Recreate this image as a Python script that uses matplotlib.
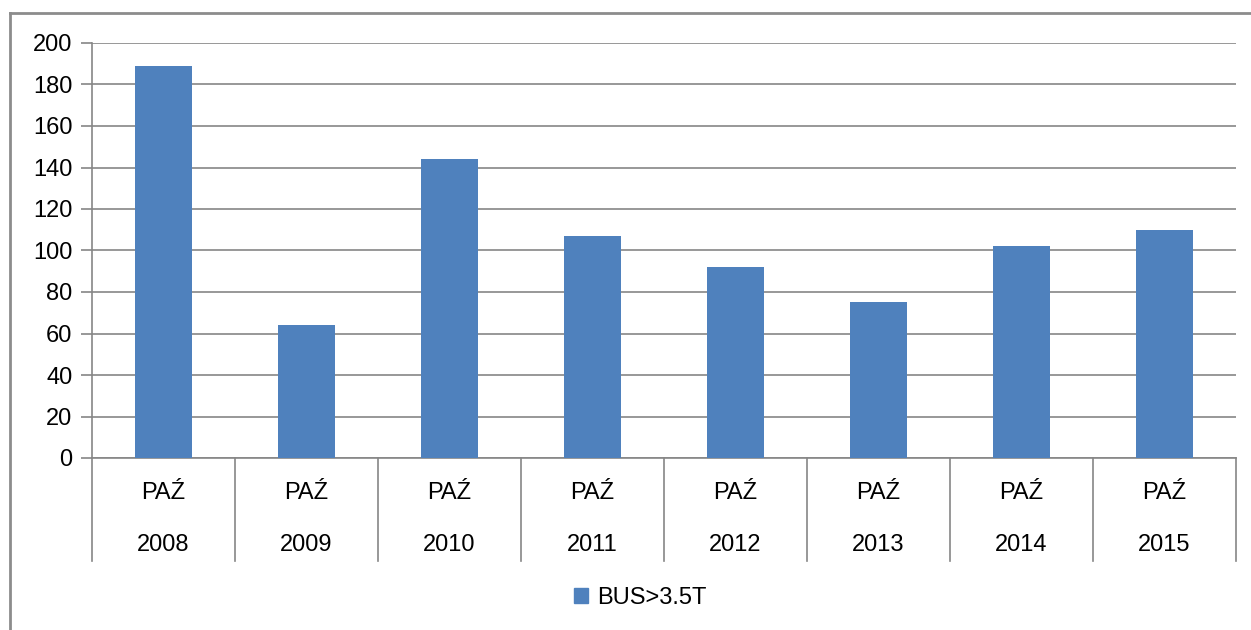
import matplotlib.pyplot as plt
from matplotlib.lines import Line2D
from matplotlib.patches import Patch
import numpy as np

years = ['2008', '2009', '2010', '2011', '2012', '2013', '2014', '2015']
month = 'PAŹ'
bus_values = [189, 64, 144, 107, 92, 75, 102, 110]
series_name = 'BUS>3.5T'

W, H = 1251, 630
fig = plt.figure(figsize=(W / 100, H / 100), dpi=100)
plt.rcParams['font.family'] = ['Liberation Sans', 'DejaVu Sans']
fs = 17

# outer chart frame (cut off at right and bottom)
fig.add_artist(Line2D([10 / W, 1.0], [1 - 13 / H, 1 - 13 / H], color='#8c8c8c', lw=2))
fig.add_artist(Line2D([10 / W, 10 / W], [0, 1 - 13 / H], color='#8c8c8c', lw=2))

left, right, bottom, top = 92 / W, 1236 / W, 1 - 458 / H, 1 - 43 / H
ax = fig.add_axes([left, bottom, right - left, top - bottom])

x = np.arange(len(years))
ax.bar(x, bus_values, width=0.4, color='#4f81bd', zorder=3)

ax.set_xlim(-0.5, len(years) - 0.5)
ax.set_ylim(0, 200)
ax.set_yticks(range(0, 201, 20))
ax.yaxis.grid(True, color='#868686', lw=1.2, zorder=0)
ax.tick_params(axis='y', length=8, width=1.2, color='#868686', labelsize=fs, pad=6)
ax.set_xticks([])
for s in ['top', 'right']:
    ax.spines[s].set_visible(False)
ax.spines['left'].set_color('#868686')
ax.spines['left'].set_linewidth(1.2)
ax.spines['bottom'].set_color('#868686')
ax.spines['bottom'].set_linewidth(1.2)

# category separators below the axis and two-line labels
trans = ax.get_xaxis_transform()
sep_bottom = -(561 - 458) / (458 - 43)
for b in np.arange(-0.5, len(years), 1.0):
    ax.plot([b, b], [0, sep_bottom], transform=trans, color='#868686', lw=1.2, clip_on=False)
row1 = -(493 - 458) / (458 - 43)
row2 = -(545 - 458) / (458 - 43)
for i, yr in enumerate(years):
    ax.text(i, row1, month, transform=trans, ha='center', va='center', fontsize=fs)
    ax.text(i, row2, yr, transform=trans, ha='center', va='center', fontsize=fs)

fig.legend(handles=[Patch(color='#4f81bd', label=series_name)], loc='center',
           bbox_to_anchor=(640 / W, 1 - 598 / H), frameon=False, fontsize=fs,
           handlelength=0.6, handleheight=0.6, handletextpad=0.4)

fig.savefig('out.png', dpi=100)
